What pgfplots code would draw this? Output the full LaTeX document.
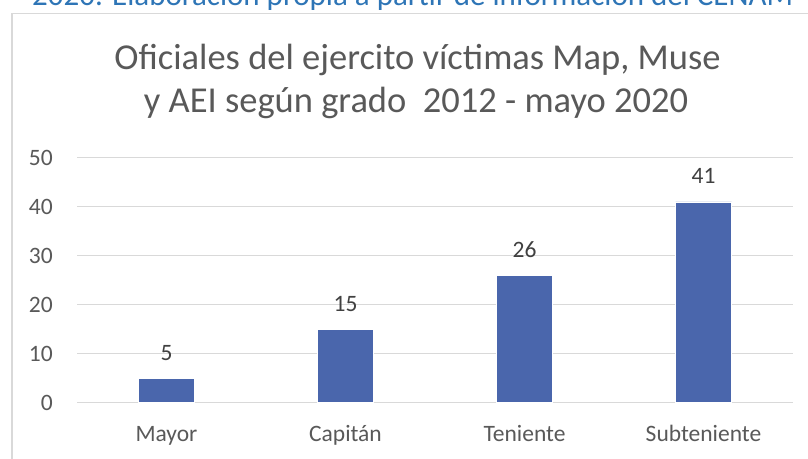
\documentclass[border=0pt]{standalone}
\usepackage{pgfplots}
\pgfplotsset{compat=1.18}
\usepackage{fontspec}
\setmainfont{Carlito}
\definecolor{barblue}{RGB}{74,102,172}
\definecolor{txtgray}{RGB}{89,89,89}
\definecolor{lblgray}{RGB}{64,64,64}
\definecolor{gridgray}{RGB}{217,217,217}
\definecolor{srcblue}{RGB}{46,117,182}
\begin{document}
\begin{tikzpicture}[x=1pt,y=1pt]
\clip (0,0) rectangle (808,458);
\fill[white] (0,0) rectangle (808,458);
\node[anchor=base west, inner sep=0pt, text=srcblue, font=\fontsize{31}{37}\selectfont] at (32,452.5) {2020. Elaboración propia a partir de información del CENAM};
\draw[gridgray, line width=1.3pt] (12,-5) -- (12,444.5) -- (830,444.5);
\node[anchor=base, inner sep=0pt, text=txtgray, font=\fontsize{36.5}{44}\selectfont] at (417.5,388.5) {Oficiales del ejercito víctimas Map, Muse};
\node[anchor=base, inner sep=0pt, text=txtgray, font=\fontsize{36.5}{44}\selectfont] at (416,345) {y AEI según grado\ \ 2012 - mayo 2020};
\begin{axis}[
  at={(77pt,55.3pt)}, anchor=south west,
  scale only axis, width=716pt, height=245pt,
  xmin=-0.5, xmax=3.5, ymin=0, ymax=50,
  axis line style={draw=none},
  xtick={0,1,2,3},
  xticklabels={Mayor,Capitán,Teniente,Subteniente},
  ytick={0,10,20,30,40,50},
  major tick length=0pt,
  ymajorgrids, grid style={gridgray, line width=1.3pt},
  xticklabel style={anchor=base, inner sep=0pt, yshift=-39pt, text=txtgray, font=\fontsize{23.5}{28}\selectfont},
  yticklabel style={anchor=east, inner sep=0pt, xshift=-24pt, text=txtgray, font=\fontsize{23.5}{28}\selectfont},
  /pgf/number format/assume math mode=true,
  nodes near coords,
  nodes near coords style={anchor=base, inner sep=0pt, yshift=18pt, text=lblgray, font=\fontsize{23.5}{28}\selectfont},
  clip=false,
]
\addplot[ybar, bar width=56pt, fill=barblue, draw=white, line width=0.5pt] coordinates {(0,5) (1,15) (2,26) (3,41)};
\end{axis}
\end{tikzpicture}
\end{document}
